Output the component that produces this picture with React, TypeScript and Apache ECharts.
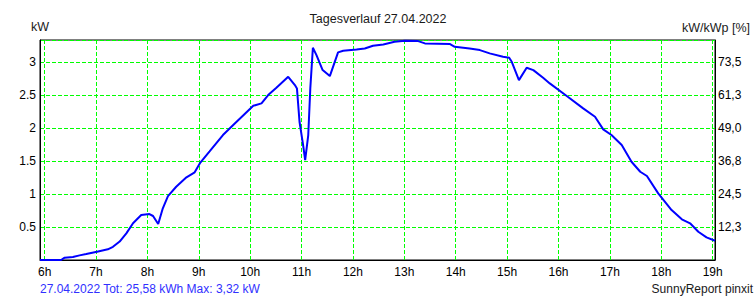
import React, { useEffect, useRef } from "react";
import * as echarts from "echarts";

const hours = [
  5.91, 6.32, 6.39, 6.55, 6.68, 6.81, 7.02, 7.23, 7.33, 7.46, 7.59, 7.72, 7.88, 8.04, 8.11, 8.21, 8.3, 8.4,
  8.56, 8.76, 8.92, 9.03, 9.21, 9.47, 9.67, 10.06, 10.22, 10.35, 10.51, 10.74, 10.87, 10.91, 10.96, 11.03,
  11.07, 11.13, 11.17, 11.22, 11.29, 11.41, 11.55, 11.71, 11.81, 12.07, 12.23, 12.39, 12.59, 12.81, 13.01,
  13.27, 13.4, 13.89, 13.98, 14.27, 14.47, 14.66, 14.92, 15.04, 15.09, 15.23, 15.38, 15.51, 15.7, 15.83,
  16.16, 16.48, 16.71, 16.87, 17.03, 17.23, 17.42, 17.59, 17.72, 17.94, 18.2, 18.4, 18.56, 18.72, 18.88, 19.045,
];
const power = [
  0, 0, 0.035, 0.045, 0.07, 0.09, 0.126, 0.162, 0.2, 0.28, 0.405, 0.557, 0.683, 0.698, 0.668, 0.546, 0.785, 0.971,
  1.112, 1.255, 1.331, 1.48, 1.65, 1.897, 2.049, 2.341, 2.378, 2.504, 2.615, 2.781, 2.656, 2.605, 2.099, 1.745,
  1.517, 1.897, 2.605, 3.222, 3.111, 2.883, 2.792, 3.152, 3.176, 3.197, 3.212, 3.252, 3.273, 3.313, 3.328,
  3.323, 3.288, 3.278, 3.237, 3.212, 3.187, 3.137, 3.085, 3.07, 3.009, 2.731, 2.918, 2.883, 2.766, 2.681,
  2.489, 2.302, 2.175, 1.983, 1.897, 1.745, 1.492, 1.34, 1.275, 1.012, 0.759, 0.618, 0.557, 0.429, 0.344, 0.293,
];
const hourTicks = [6, 7, 8, 9, 10, 11, 12, 13, 14, 15, 16, 17, 18, 19];
const kwTicks = [0.5, 1, 1.5, 2, 2.5, 3];
const pctLabels = ["12,3", "24,5", "36,8", "49,0", "61,3", "73,5"];

const titleText = "Tagesverlauf 27.04.2022";
const footerLeft = "27.04.2022 Tot: 25,58 kWh Max: 3,32 kW";
const footerRight = "SunnyReport pinxit";

const FONT = "Liberation Sans, Arial, sans-serif";
const GRID = { type: [4, 2] as any, color: "#00ff00", width: 1 };

export default function App() {
  const ref = useRef<HTMLDivElement>(null);
  useEffect(() => {
    if (!ref.current) return;
    const chart = echarts.init(ref.current, null, { renderer: "svg" });
    const data = hours.map((h, i) => [h, power[i]]);
    chart.setOption({
      animation: false,
      backgroundColor: "#ffffff",
      grid: {
        left: 40,
        right: 41,
        top: 40,
        bottom: 40,
        show: true,
        borderColor: "#000",
        borderWidth: 1,
        backgroundColor: "transparent",
      },
      xAxis: {
        type: "value",
        min: 5.91,
        max: 19.045,
        axisLine: { show: true, lineStyle: { color: "#000", width: 1 } },
        axisTick: { show: false, customValues: hourTicks },
        axisLabel: {
          customValues: hourTicks,
          formatter: (v: number) => `${v}h`,
          color: "#000",
          fontFamily: FONT,
          fontSize: 12,
          margin: 6,
        },
        splitLine: { show: true, lineStyle: GRID },
      },
      yAxis: [
        {
          type: "value",
          min: 0,
          max: 3.34,
          interval: 0.5,
          axisLine: { show: true, lineStyle: { color: "#000", width: 1 } },
          axisTick: { show: false },
          axisLabel: {
            showMinLabel: false,
            showMaxLabel: false,
            formatter: (v: number) => (kwTicks.includes(v) ? String(v) : ""),
            color: "#000",
            fontFamily: FONT,
            fontSize: 12,
            margin: 4,
          },
          splitLine: { show: true, lineStyle: GRID },
        },
        {
          type: "value",
          min: 0,
          max: 3.34,
          interval: 0.5,
          position: "right",
          axisLine: { show: true, lineStyle: { color: "#000", width: 1 } },
          axisTick: { show: false },
          axisLabel: {
            showMinLabel: false,
            showMaxLabel: false,
            formatter: (v: number) => {
              const i = kwTicks.indexOf(v);
              return i >= 0 ? pctLabels[i] : "";
            },
            color: "#000",
            fontFamily: FONT,
            fontSize: 12,
            margin: 3,
          },
          splitLine: { show: false },
        },
      ],
      series: [
        {
          type: "line",
          data,
          yAxisIndex: 0,
          showSymbol: false,
          symbol: "none",
          lineStyle: { color: "#0000ff", width: 2 },
          clip: true,
        },
      ],
      graphic: [
        {
          type: "text",
          x: 378,
          y: 19,
          style: { text: titleText, font: `12.5px ${FONT}`, fill: "#1a1a1a", textAlign: "center", textVerticalAlign: "middle" },
        },
        {
          type: "text",
          x: 31,
          y: 27,
          style: { text: "kW", font: `12.5px ${FONT}`, fill: "#1a1a1a", textAlign: "left", textVerticalAlign: "middle" },
        },
        {
          type: "text",
          x: 750,
          y: 28,
          style: { text: "kW/kWp [%]", font: `12.5px ${FONT}`, fill: "#1a1a1a", textAlign: "right", textVerticalAlign: "middle" },
        },
        {
          type: "text",
          x: 40,
          y: 289,
          style: { text: footerLeft, font: `12px ${FONT}`, fill: "#3030ff", textAlign: "left", textVerticalAlign: "middle" },
        },
        {
          type: "text",
          x: 753,
          y: 289,
          style: { text: footerRight, font: `12px ${FONT}`, fill: "#1a1a1a", textAlign: "right", textVerticalAlign: "middle" },
        },
      ],
    });
    return () => chart.dispose();
  }, []);
  return (
    <div
      ref={ref}
      style={{ position: "fixed", left: 0, top: 0, width: 756, height: 300, background: "#fff" }}
    />
  );
}
